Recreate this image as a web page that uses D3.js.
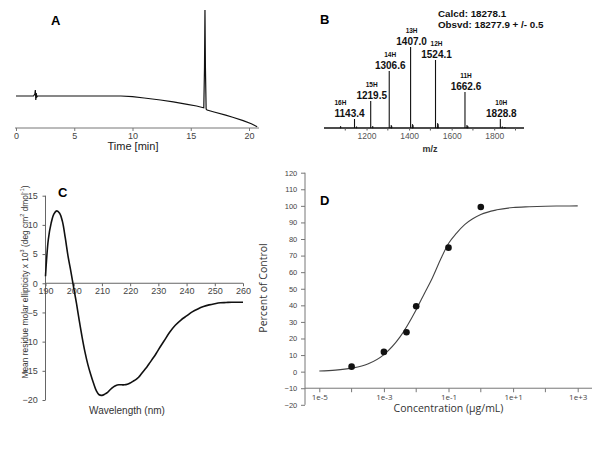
<!DOCTYPE html>
<html><head><meta charset="utf-8">
<script src="https://cdn.jsdelivr.net/npm/d3@7"></script>
<style>body{margin:0;background:#fff}svg{display:block}</style>
</head><body>
<svg id="c" width="600" height="449"></svg>
<script>
// ---------- Panel A: HPLC trace ----------
const hplcTime = [0,1.5,1.62,1.66,1.7,1.74,1.78,1.85,5,9,10,11,12.4,13.5,14.7,15.5,16.0,16.12,16.18,16.22,16.26,16.32,16.4,17,18,18.6,19.5,20.2,20.7];
const hplcSignal=[32,32,34,38,28,35,31,32,32,32,31.3,30,28,26.2,23.7,22,20.5,20.3,60,118,60,19,18,16,12.8,10.7,7.4,4.3,1.3];
const hplcTicks = [0,5,10,15,20];

// ---------- Panel B: ESI-MS ----------
const msCharge = ["16H","15H","14H","13H","12H","11H","10H"];
const msMz = [1143.4,1219.5,1306.6,1407.0,1524.1,1662.6,1828.8];
const msIntensity = [9,27,57,81,68,36,9];
const msMinorMz = [1078,1153,1229,1316,1318,1416,1418,1534,1536,1672,1676,1838,1850];
const msMinorInt = [2,1.5,2,3,2,4,3,5,4,3,2,1.5,1];
const msTicks = [1200,1400,1600,1800];
const msMinorTicks = [1100,1300,1500,1700,1900];

// ---------- Panel C: CD spectrum ----------
const cdWave = [190,191,192,193,194,195,196,197,198,199,200,201,202,203,204,205,206,207,208,209,210,211,212,213,214,215,216,217,218,219,220,221,222,223,224,225,226,227,228,229,230,232,234,236,238,240,242,244,246,248,250,252,254,256,258,260];
const cdValue = [1.2,7.5,10.3,11.9,12.4,12.0,10.6,7.8,4.6,2.0,-0.8,-3.5,-6.5,-9.3,-11.8,-13.9,-15.6,-17.1,-18.4,-19.1,-19.2,-19.0,-18.7,-18.2,-17.8,-17.5,-17.4,-17.4,-17.4,-17.3,-17.1,-16.8,-16.5,-16.1,-15.5,-14.9,-14.3,-13.6,-12.9,-12.2,-11.4,-9.9,-8.4,-7.2,-6.3,-5.6,-4.9,-4.4,-4.0,-3.7,-3.5,-3.35,-3.3,-3.25,-3.25,-3.25];
const cdXTicks = [190,200,210,220,230,240,250,260];
const cdYTicks = [15,10,5,0,-5,-10,-15,-20];

// ---------- Panel D: dose response ----------
const doseConc = [1e-4,1e-3,5e-3,1e-2,1e-1,1];
const dosePct = [3.0,11.9,23.8,39.4,74.8,99.3];
const fitLogConc = [-5,-4.5,-4,-3.5,-3,-2.5,-2,-1.75,-1.5,-1.25,-1,-0.75,-0.5,-0.25,0,0.5,1,1.5,2,2.5,3];
const fitPct = [0.4,0.9,2.1,4.6,10.3,21,37.4,47,56.5,67.5,77.3,83.6,88.7,92.2,94.8,97.6,99.0,99.5,99.8,99.9,100];
const doseXTicks = [1e-5,1e-3,1e-1,1e1,1e3];
const doseXTickLabels = ["1e-5","1e-3","1e-1","1e+1","1e+3"];
const doseMinorTicks = [1e-4,1e-2,1,1e2];
const doseYTicks = [120,110,100,90,80,70,60,50,40,30,20,10,0,-10,-20];

const svg = d3.select("#c");
const F = "Liberation Sans, Arial, sans-serif";

// ===== A =====
{
  const x = d3.scaleLinear().domain([0,20]).range([16,249]);
  const y = d3.scaleLinear().domain([0,120]).range([128,8]);
  const g = svg.append("g");
  g.append("line").attr("x1",15).attr("x2",259).attr("y1",128).attr("y2",128).attr("stroke","#777").attr("stroke-width",1);
  const ax = g.append("g").attr("transform","translate(0,128)")
    .call(d3.axisBottom(x).tickValues(hplcTicks).tickSize(3).tickFormat(d3.format("d")));
  ax.select(".domain").remove();
  ax.selectAll("line").attr("stroke","#777");
  ax.selectAll("text").attr("font-family",F).attr("font-size",9).attr("fill","#444").attr("dy","0.6em");
  g.append("path").datum(hplcTime.map((t,i)=>[t,hplcSignal[i]]))
    .attr("d",d3.line().x(d=>x(d[0])).y(d=>y(d[1])).curve(d3.curveLinear))
    .attr("fill","none").attr("stroke","#111").attr("stroke-width",1.2);
  g.append("text").attr("x",133).attr("y",150).attr("text-anchor","middle").attr("font-family",F).attr("font-size",11).attr("fill","#222").text("Time [min]");
  g.append("text").attr("x",51).attr("y",25).attr("font-family",F).attr("font-weight","bold").attr("font-size",13).text("A");
}

// ===== B =====
{
  const x = d3.scaleLinear().domain([1000,1940]).range([324,524]);
  const y = d3.scaleLinear().domain([0,100]).range([128,28]);
  const g = svg.append("g");
  msMinorMz.forEach((m,i)=>{
    g.append("path").attr("d",`M${x(m-2)},${y(0)}L${x(m)},${y(msMinorInt[i])}L${x(m+2)},${y(0)}Z`).attr("fill","#111").attr("stroke","#111").attr("stroke-width",0.6);
  });
  msMz.forEach((m,i)=>{
    const px = x(m), top = y(msIntensity[i]);
    g.append("line").attr("x1",px).attr("x2",px).attr("y1",y(0)).attr("y2",top).attr("stroke","#111").attr("stroke-width",1.1);
    const first = i===0;
    g.append("text").attr("x",first?px-20:px+1).attr("y",top-2.5).attr("text-anchor",first?"start":"middle")
      .attr("font-family",F).attr("font-weight","bold").attr("font-size",10).attr("fill","#111").text(m.toFixed(1));
    g.append("text").attr("x",first?px-20:px+1).attr("y",top-14.5).attr("text-anchor",first?"start":"middle")
      .attr("font-family",F).attr("font-weight","bold").attr("font-size",6.5).attr("fill","#111").text(msCharge[i]);
  });
  g.append("line").attr("x1",324).attr("x2",524).attr("y1",128).attr("y2",128).attr("stroke","#111").attr("stroke-width",1.4);
  const ax = g.append("g").attr("transform","translate(0,128)")
    .call(d3.axisBottom(x).tickValues(msTicks).tickSize(2.5).tickFormat(d3.format("d")));
  ax.select(".domain").remove();
  ax.selectAll("line").attr("stroke","#555");
  ax.selectAll("text").attr("font-family",F).attr("font-size",8.5).attr("fill","#555").attr("dy","0.6em");
  g.selectAll(".mt").data(msMinorTicks).enter().append("line").attr("x1",d=>x(d)).attr("x2",d=>x(d)).attr("y1",128).attr("y2",130.5).attr("stroke","#555");
  g.append("text").attr("x",430).attr("y",152).attr("text-anchor","middle").attr("font-family",F).attr("font-weight","bold").attr("font-size",9).attr("fill","#333").text("m/z");
  g.append("text").attr("x",320).attr("y",24).attr("font-family",F).attr("font-weight","bold").attr("font-size",13).text("B");
  g.append("text").attr("x",438).attr("y",17).attr("font-family",F).attr("font-weight","bold").attr("font-size",9.8).attr("fill","#111").text("Calcd: 18278.1");
  g.append("text").attr("x",438).attr("y",28).attr("font-family",F).attr("font-weight","bold").attr("font-size",9.8).attr("fill","#111").text("Obsvd: 18277.9 + /- 0.5");
}

// ===== C =====
{
  const x = d3.scaleLinear().domain([190,260]).range([45.5,243]);
  const y = d3.scaleLinear().domain([15,-20]).range([195.7,400]);
  const g = svg.append("g");
  g.append("line").attr("x1",45.5).attr("x2",45.5).attr("y1",y(15)).attr("y2",y(-20)).attr("stroke","#666");
  const ay = g.append("g").attr("transform","translate(45.5,0)")
    .call(d3.axisLeft(y).tickValues(cdYTicks).tickSize(3).tickFormat(d3.format("d")));
  ay.select(".domain").remove();
  ay.selectAll("line").attr("stroke","#666");
  ay.selectAll("text").attr("font-family",F).attr("font-size",9).attr("fill","#444").attr("dx","-0.2em");
  g.append("line").attr("x1",45.5).attr("x2",243).attr("y1",y(0)).attr("y2",y(0)).attr("stroke","#666");
  const ax = g.append("g").attr("transform",`translate(0,${y(0)})`)
    .call(d3.axisBottom(x).tickValues(cdXTicks).tickSize(3).tickFormat(d3.format("d")));
  ax.select(".domain").remove();
  ax.selectAll("line").attr("stroke","#666");
  ax.selectAll("text").attr("font-family",F).attr("font-size",9).attr("fill","#444").attr("dy","0.5em");
  g.append("path").datum(cdWave.map((w,i)=>[w,cdValue[i]]))
    .attr("d",d3.line().x(d=>x(d[0])).y(d=>y(d[1])).curve(d3.curveCatmullRom))
    .attr("fill","none").attr("stroke","#111").attr("stroke-width",1.6);
  const t = g.append("text").attr("transform","translate(27.5,282) rotate(-90)").attr("text-anchor","middle").attr("font-family",F).attr("font-size",8.4).attr("fill","#333");
  t.append("tspan").text("Mean residue molar ellipticity x 10");
  t.append("tspan").attr("font-size",5.5).attr("dy",-4).text("3");
  t.append("tspan").attr("dy",4).text(" (deg cm");
  t.append("tspan").attr("font-size",5.5).attr("dy",-4).text("2");
  t.append("tspan").attr("dy",4).text(" dmol");
  t.append("tspan").attr("font-size",5.5).attr("dy",-4).text("-1");
  t.append("tspan").attr("dy",4).text(")");
  g.append("text").attr("x",127).attr("y",414).attr("text-anchor","middle").attr("font-family",F).attr("font-size",10).attr("fill","#333").text("Wavelength (nm)");
  g.append("text").attr("x",58).attr("y",197).attr("font-family",F).attr("font-weight","bold").attr("font-size",13).text("C");
}

// ===== D =====
{
  const FD = "Open Sans, DejaVu Sans, sans-serif";
  const x = d3.scaleLog().domain([1e-5,1e3]).range([319.3,577.7]);
  const y = d3.scaleLinear().domain([-20,120]).range([404.8,172.7]);
  const g = svg.append("g");
  g.append("line").attr("x1",305).attr("x2",305).attr("y1",y(120)).attr("y2",y(-20)).attr("stroke","#777");
  const ay = g.append("g").attr("transform","translate(305,0)")
    .call(d3.axisLeft(y).tickValues(doseYTicks).tickSize(4).tickFormat(d3.format("d")));
  ay.select(".domain").remove();
  ay.selectAll("line").attr("stroke","#777");
  ay.selectAll("text").attr("font-family",F).attr("font-size",7.5).attr("fill","#444").attr("dx","-0.1em");
  g.append("line").attr("x1",305).attr("x2",592).attr("y1",y(-10)).attr("y2",y(-10)).attr("stroke","#777");
  const ax = g.append("g").attr("transform",`translate(0,${y(-10)})`)
    .call(d3.axisBottom(x).tickValues(doseXTicks).tickSize(4).tickFormat((d,i)=>doseXTickLabels[i]));
  ax.select(".domain").remove();
  ax.selectAll("line").attr("stroke","#777");
  ax.selectAll("text").attr("font-family",FD).attr("font-size",8).attr("fill","#444").attr("dy","0.6em");
  g.selectAll(".mt").data(doseMinorTicks).enter().append("line").attr("x1",d=>x(d)).attr("x2",d=>x(d)).attr("y1",y(-10)).attr("y2",y(-10)+4).attr("stroke","#777");
  g.append("path").datum(fitLogConc.map((l,i)=>[Math.pow(10,l),fitPct[i]]))
    .attr("d",d3.line().x(d=>x(d[0])).y(d=>y(d[1])).curve(d3.curveMonotoneX))
    .attr("fill","none").attr("stroke","#444").attr("stroke-width",1.1);
  g.selectAll(".pt").data(doseConc).enter().append("circle").attr("cx",d=>x(d)).attr("cy",(d,i)=>y(dosePct[i])).attr("r",3.3).attr("fill","#111");
  g.append("text").attr("x",448.5).attr("y",412).attr("text-anchor","middle").attr("font-family",FD).attr("font-size",10.5).attr("fill","#333").text("Concentration (µg/mL)");
  g.append("text").attr("transform","translate(267,288) rotate(-90)").attr("text-anchor","middle").attr("font-family",FD).attr("font-size",10.5).attr("fill","#333").text("Percent of Control");
  g.append("text").attr("x",320).attr("y",205).attr("font-family",F).attr("font-weight","bold").attr("font-size",13).text("D");
}
</script>
</body></html>
